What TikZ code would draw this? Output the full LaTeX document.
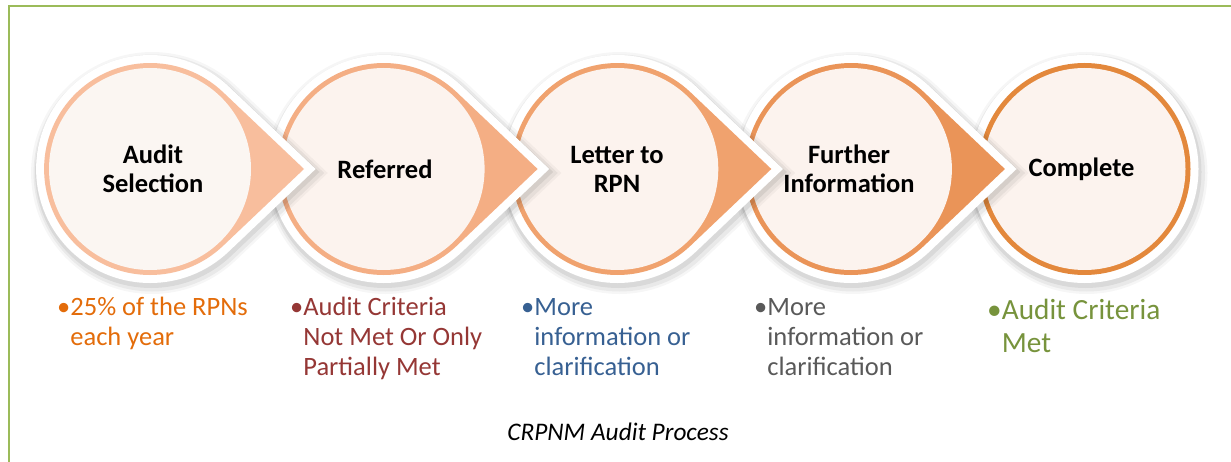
\documentclass[tikz,border=0pt]{standalone}
\usepackage{fontspec}
\setmainfont{Carlito}
\definecolor{frame}{HTML}{9BBB59}
\definecolor{ringA}{HTML}{F8BE9D}
\definecolor{ringB}{HTML}{F4AE84}
\definecolor{ringC}{HTML}{F0A26E}
\definecolor{ringD}{HTML}{EA9458}
\definecolor{ringE}{HTML}{E3883C}
\definecolor{innerA}{HTML}{FBF6F2}
\definecolor{innerB}{HTML}{FCF3EE}
\definecolor{txtA}{HTML}{E36C0A}
\definecolor{txtB}{HTML}{953735}
\definecolor{txtC}{HTML}{376092}
\definecolor{txtD}{HTML}{595959}
\definecolor{txtE}{HTML}{77933C}
% teardrop: circle radius 106 with tip 154 to the right of the centre
\newcommand\tear[2]{(#1pt,-#2pt) ++(154pt,0pt) -- ++(-81.1pt,77pt) arc[start angle=46.6, end angle=313.4, radius=106pt] -- cycle}
\newcommand\disc[2]{(#1pt,-#2pt) circle[radius=106pt]}
\newcommand\stage[5]{%
  \draw[black, opacity=.035, line width=30pt] [shift={(2pt,-4pt)}] #1;
  \draw[black, opacity=.05, line width=25pt] [shift={(2pt,-4pt)}] #1;
  \draw[black, opacity=.07, line width=20pt] [shift={(1pt,-3pt)}] #1;
  \filldraw[white, line width=16pt] #1;
  \fill[#2] #1;
  \node[head, fill=#3] (#4) at (#5) {};
}
\begin{document}
\begin{tikzpicture}[x=1pt,y=-1pt,
  head/.style={circle, minimum size=202pt, inner sep=0pt, align=center},
  headtext/.style={align=center, inner sep=0pt, font=\fontsize{26.5}{29}\selectfont\bfseries, text=black},
  bul/.style={anchor=north west, inner sep=0pt, font=\fontsize{26.5}{30}\selectfont},
  bigbul/.style={anchor=north west, inner sep=0pt, font=\fontsize{29.3}{32.5}\selectfont},
  border/.style={frame, line width=2.5pt},
  caption/.style={font=\fontsize{25.3}{29}\selectfont\itshape, text=black}
]
\useasboundingbox (0,0) rectangle (1231,462);
\draw[border] (9,480) -- (9,6) -- (1250,6);

\stage{\disc{1084.5}{169}}{ringE}{innerB}{s5}{1084.5,169}
\stage{\tear{850.9}{169}}{ringD}{innerB}{s4}{850.9,169}
\stage{\tear{617.3}{169}}{ringC}{innerB}{s3}{617.3,169}
\stage{\tear{383.6}{169}}{ringB}{innerB}{s2}{383.6,169}
\stage{\tear{150}{169}}{ringA}{innerA}{s1}{150,169}

\node[headtext] (h1) at (153,169) {Audit\\Selection};
\node[headtext] (h2) at (385,169) {Referred};
\node[headtext] (h3) at (617,169) {Letter to\\RPN};
\node[headtext] (h4) at (849,169) {Further\\Information};
\node[headtext] (h5) at (1081.5,169) {Complete};

\node[bul, text=txtA] (b1) at (57,294) {\begin{tabular}{@{}l@{}l@{}}•&25\% of the RPNs\\&each year\end{tabular}};
\node[bul, text=txtB] (b2) at (290,294) {\begin{tabular}{@{}l@{}l@{}}•&Audit Criteria\\&Not Met Or Only\\&Partially Met\end{tabular}};
\node[bul, text=txtC] (b3) at (521,294) {\begin{tabular}{@{}l@{}l@{}}•&More\\&information or\\&clarification\end{tabular}};
\node[bul, text=txtD] (b4) at (754,294) {\begin{tabular}{@{}l@{}l@{}}•&More\\&information or\\&clarification\end{tabular}};
\node[bigbul, text=txtE] (b5) at (987,297) {\begin{tabular}{@{}l@{}l@{}}•&Audit Criteria\\&Met\end{tabular}};

\node[caption] (cap) at (618,432) {CRPNM Audit Process};
\end{tikzpicture}
\end{document}
